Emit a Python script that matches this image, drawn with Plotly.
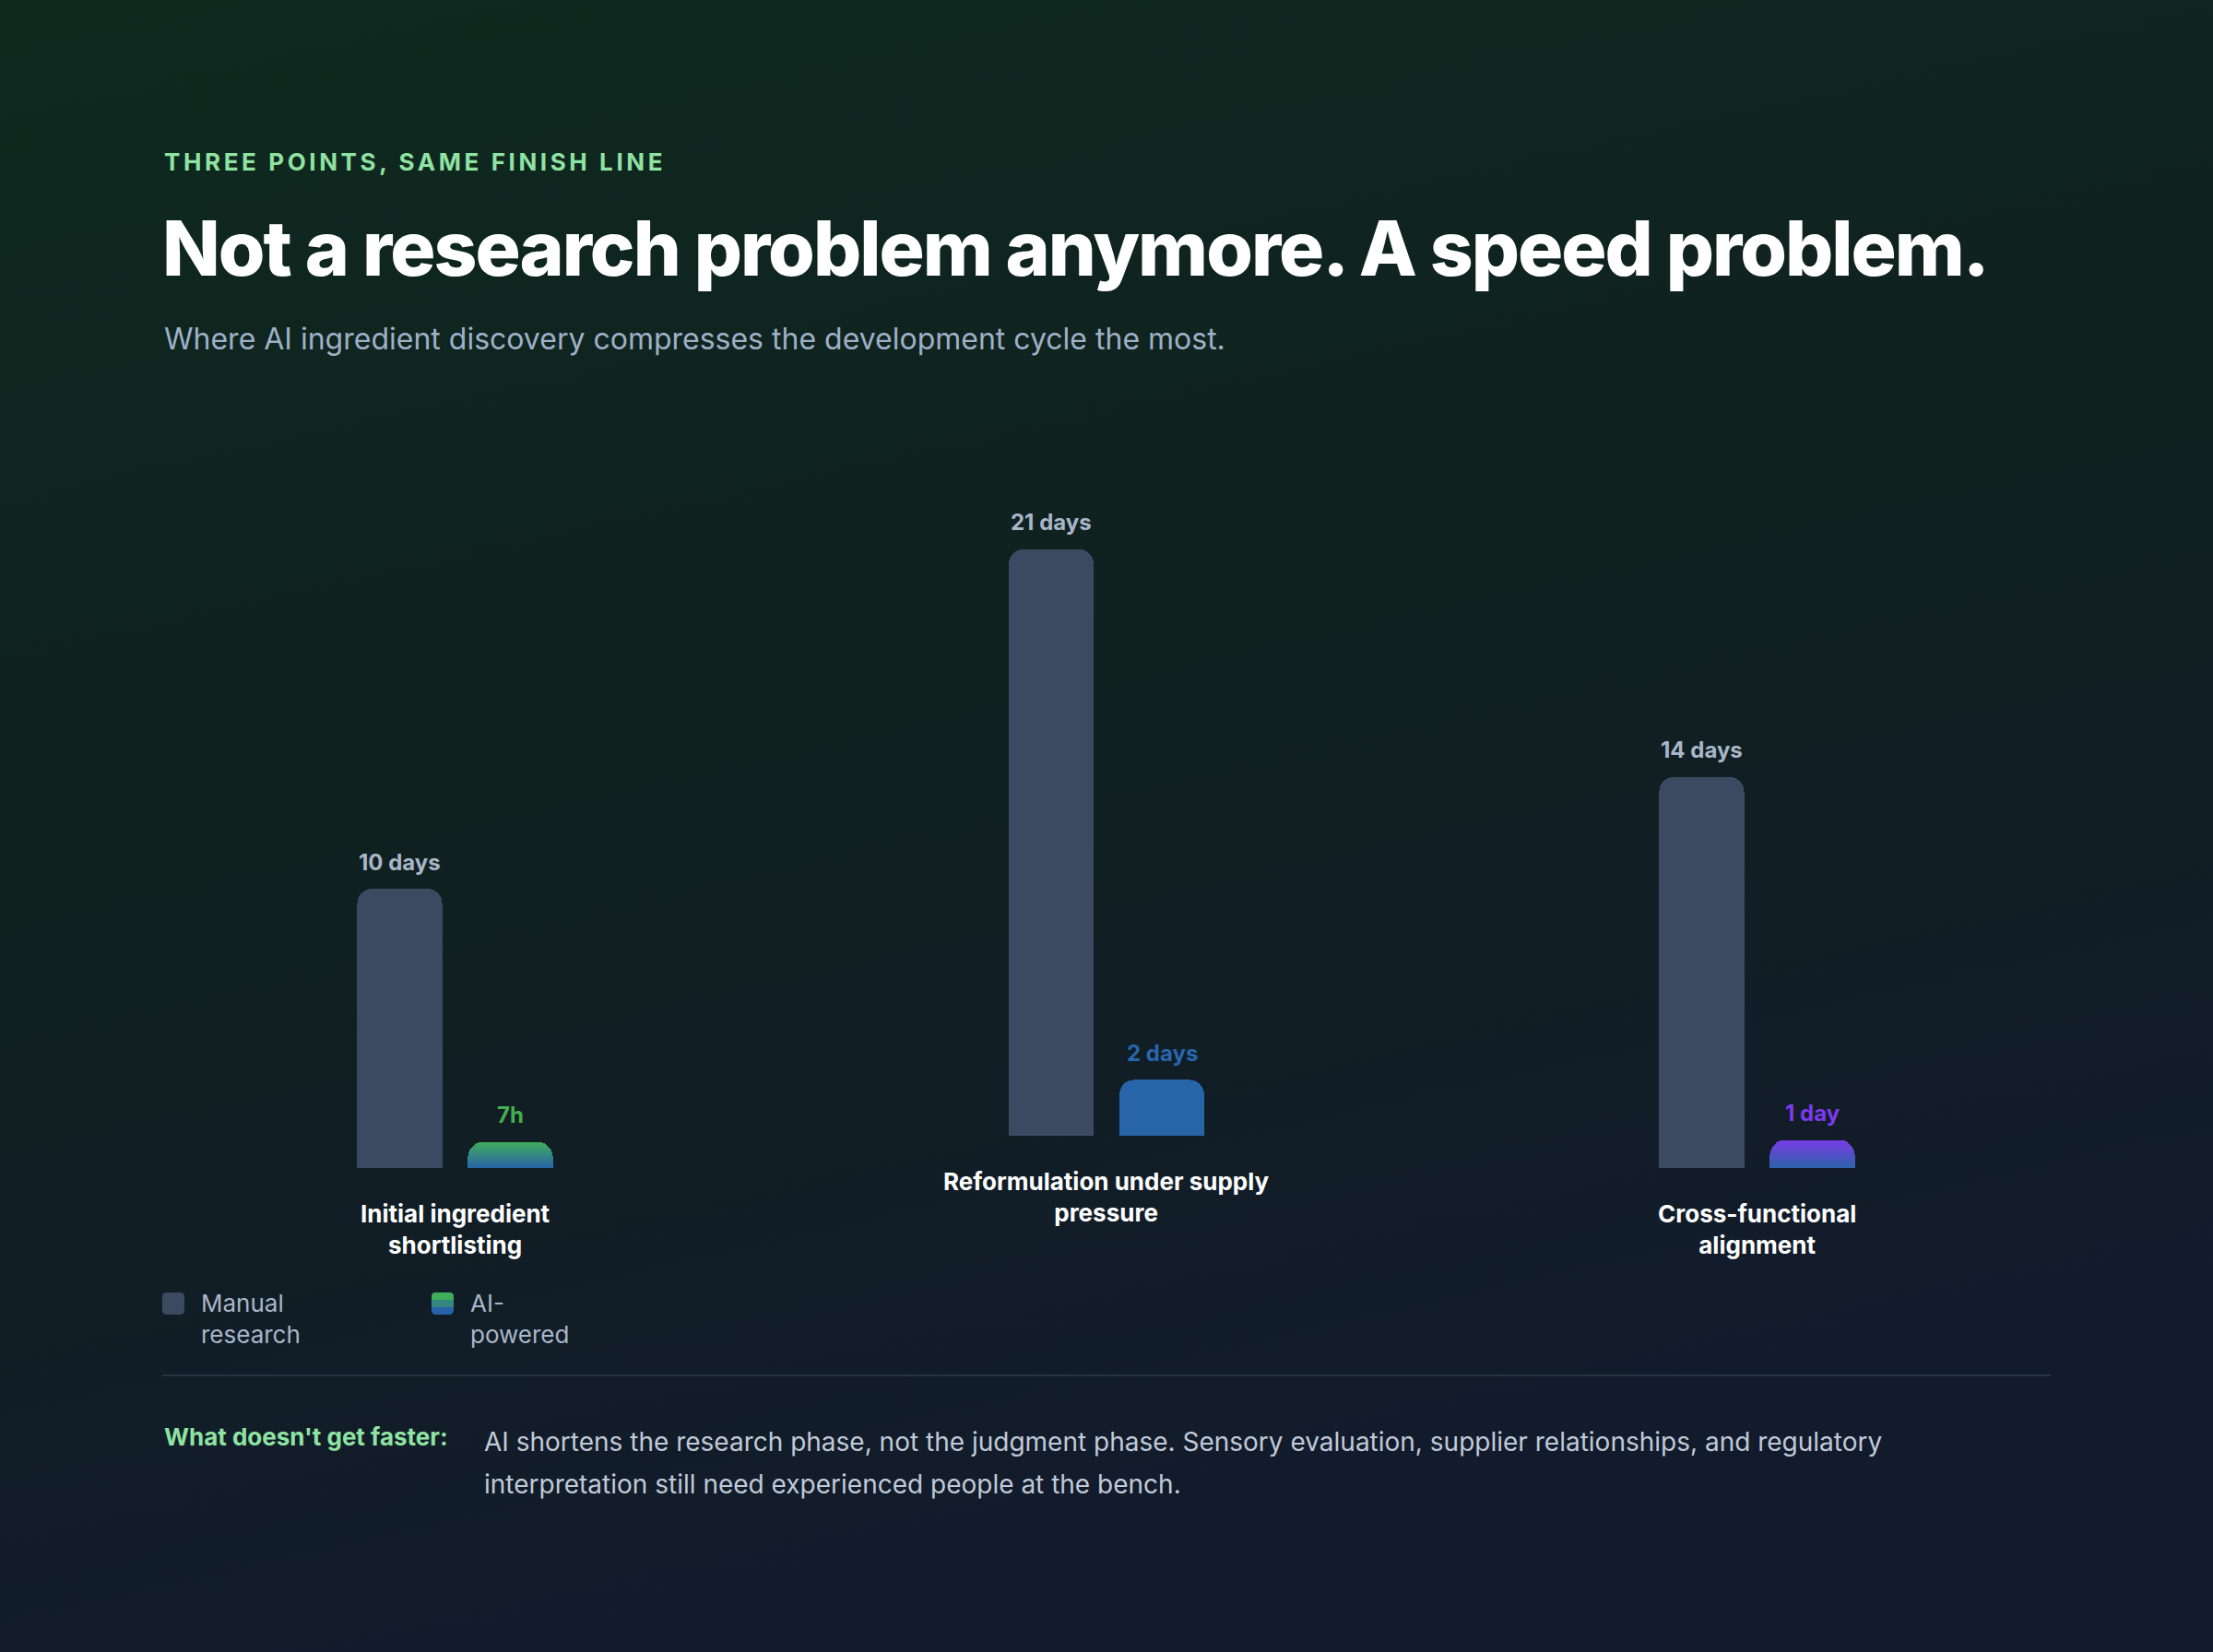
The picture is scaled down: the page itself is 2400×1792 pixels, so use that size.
import base64
import numpy as np
import plotly.graph_objects as go

# chart values
categories = ["Initial ingredient<br>shortlisting",
              "Reformulation under supply<br>pressure",
              "Cross-functional<br>alignment"]
manual_days = [10, 21, 14]
ai_days = [7 / 24, 2, 1]
manual_labels = ["10 days", "21 days", "14 days"]
ai_labels = ["7h", "2 days", "1 day"]
series_names = ["Manual<br>research", "AI-<br>powered"]

# styling
W, H = 2400, 1792
FONT = "Inter, Roboto, sans-serif"
MANUAL_COLOR = "#3b4a60"
MANUAL_LABEL = "#a9b6c9"
AI_TOP = ["#40ad5a", "#2764a8", "#7a3be6"]
AI_BOTTOM = ["#2863a9", "#2764a8", "#2c63aa"]
AI_LABEL = ["#46b04f", "#2866ad", "#7c3aed"]
GREEN = "#8fe3a2"
MIN_BAR_DAYS = 0.93      # smallest bar still drawn ~28px tall
N_SLICES = 8             # slices used to fake the vertical gradient

group_centers = [493.5, 1200, 1905.5]
baselines = [1267, 1232, 1267]
day_px = 30.3
y_max = 24


def fx(x):
    return x / W


def fy(y):
    return 1 - y / H


def mix(c1, c2, t):
    a = [int(c1[i:i + 2], 16) for i in (1, 3, 5)]
    b = [int(c2[i:i + 2], 16) for i in (1, 3, 5)]
    return "#" + "".join(f"{round(a[k] + (b[k] - a[k]) * t):02x}" for k in range(3))


def round_rect(x0, y0, x1, y1, r, top_only=False):
    # pixel coords -> paper path
    X = lambda v: f"{fx(v):.5f}"
    Y = lambda v: f"{fy(v):.5f}"
    rb = 0 if top_only else r
    return (f"M{X(x0 + r)},{Y(y0)} L{X(x1 - r)},{Y(y0)} Q{X(x1)},{Y(y0)} {X(x1)},{Y(y0 + r)} "
            f"L{X(x1)},{Y(y1 - rb)} Q{X(x1)},{Y(y1)} {X(x1 - rb)},{Y(y1)} "
            f"L{X(x0 + rb)},{Y(y1)} Q{X(x0)},{Y(y1)} {X(x0)},{Y(y1 - rb)} "
            f"L{X(x0)},{Y(y0 + r)} Q{X(x0)},{Y(y0)} {X(x0 + r)},{Y(y0)} Z")


fig = go.Figure()
annotations = []
layout_axes = {}

for i in range(3):
    suf = "" if i == 0 else str(i + 1)
    xa, ya = "x" + suf, "y" + suf
    # manual bar
    fig.add_bar(x=[0], y=[manual_days[i]], width=0.767, xaxis=xa, yaxis=ya,
                marker=dict(color=MANUAL_COLOR, line=dict(width=0)),
                showlegend=False, hoverinfo="skip")
    # ai bar drawn as stacked slices for the gradient
    h = max(ai_days[i], MIN_BAR_DAYS)
    for s in range(N_SLICES):
        t = (s + 0.5) / N_SLICES
        fig.add_bar(x=[1], y=[h / N_SLICES], width=0.767, xaxis=xa, yaxis=ya,
                    marker=dict(color=mix(AI_BOTTOM[i], AI_TOP[i], t), line=dict(width=0)),
                    showlegend=False, hoverinfo="skip")

    c = group_centers[i]
    b = baselines[i]
    layout_axes["xaxis" + suf] = dict(domain=[fx(c - 120), fx(c + 120)], range=[-0.5, 1.5],
                                      visible=False, fixedrange=True, anchor=ya)
    layout_axes["yaxis" + suf] = dict(domain=[fy(b), fy(b - y_max * day_px)], range=[0, y_max],
                                      visible=False, fixedrange=True, anchor=xa)

    annotations.append(dict(xref=xa, yref=ya, x=0, y=manual_days[i], yshift=29,
                            text=f"<b>{manual_labels[i]}</b>", showarrow=False, yanchor="middle",
                            font=dict(family=FONT, size=24, color=MANUAL_LABEL)))
    annotations.append(dict(xref=xa, yref=ya, x=1, y=h, yshift=29,
                            text=f"<b>{ai_labels[i]}</b>", showarrow=False, yanchor="middle",
                            font=dict(family=FONT, size=24, color=AI_LABEL[i])))
    annotations.append(dict(xref=f"{xa} domain", yref=f"{ya} domain", x=0.5, y=0, yshift=-66,
                            text=f"<b>{categories[i]}</b>", showarrow=False, yanchor="middle",
                            font=dict(family=FONT, size=26, color="#ffffff")))

# header text
annotations += [
    dict(xref="paper", yref="paper", x=fx(176), y=fy(176), xanchor="left", yanchor="middle",
         text='<span style="letter-spacing:3.6px"><b>THREE POINTS, SAME FINISH LINE</b></span>',
         showarrow=False, font=dict(family=FONT, size=26, color=GREEN)),
    dict(xref="paper", yref="paper", x=fx(174), y=fy(270), xanchor="left", yanchor="middle",
         text='<span style="letter-spacing:-2px">Not a research problem anymore. A speed problem.</span>',
         showarrow=False, font=dict(family=FONT, size=82, color="#ffffff", weight=800)),
    dict(xref="paper", yref="paper", x=fx(176), y=fy(367), xanchor="left", yanchor="middle",
         text="Where AI ingredient discovery compresses the development cycle the most.",
         showarrow=False, font=dict(family=FONT, size=32, color="#9fb0c8")),
]

# legend
legend_x = [176, 468]
for k in range(2):
    annotations.append(dict(xref="paper", yref="paper", x=fx(legend_x[k] + 40), y=fy(1430),
                            xanchor="left", yanchor="middle", align="left",
                            text=series_names[k], showarrow=False,
                            font=dict(family=FONT, size=26, color="#a9b6c9")))

shapes = [
    dict(type="path", xref="paper", yref="paper", layer="above", line=dict(width=0),
         fillcolor=MANUAL_COLOR, path=round_rect(176, 1402, 200, 1426, 5)),
    dict(type="path", xref="paper", yref="paper", layer="above", line=dict(width=0),
         fillcolor=AI_BOTTOM[0], path=round_rect(468, 1402, 492, 1426, 5)),
    dict(type="path", xref="paper", yref="paper", layer="above", line=dict(width=0),
         fillcolor=mix(AI_BOTTOM[0], AI_TOP[0], 0.5), path=round_rect(468, 1402, 492, 1418, 5, True)),
    dict(type="path", xref="paper", yref="paper", layer="above", line=dict(width=0),
         fillcolor=AI_TOP[0], path=round_rect(468, 1402, 492, 1410, 5, True)),
    # divider
    dict(type="line", xref="paper", yref="paper", x0=fx(176), x1=fx(2224), y0=fy(1492), y1=fy(1492),
         line=dict(color="#26353f", width=2)),
]

# footer note
annotations += [
    dict(xref="paper", yref="paper", x=fx(176), y=fy(1558), xanchor="left", yanchor="middle",
         text="<b>What doesn't get faster:</b>", showarrow=False,
         font=dict(family=FONT, size=26, color=GREEN)),
    dict(xref="paper", yref="paper", x=fx(523), y=fy(1564), xanchor="left", yanchor="middle",
         text="AI shortens the research phase, not the judgment phase. Sensory evaluation, "
              "supplier relationships, and regulatory",
         showarrow=False, font=dict(family=FONT, size=28, color="#c0cad8")),
    dict(xref="paper", yref="paper", x=fx(523), y=fy(1610), xanchor="left", yanchor="middle",
         text="interpretation still need experienced people at the bench.",
         showarrow=False, font=dict(family=FONT, size=28, color="#c0cad8")),
]

# background gradient as an svg image
svg = (f'<svg xmlns="http://www.w3.org/2000/svg" width="{W}" height="{H}" '
       f'preserveAspectRatio="none"><defs><linearGradient id="g" x1="0" y1="0" x2="0.3" y2="1">'
       '<stop offset="0" stop-color="#0e2a1f"/><stop offset="0.5" stop-color="#10201f"/>'
       '<stop offset="1" stop-color="#121b2c"/></linearGradient></defs>'
       f'<rect width="{W}" height="{H}" fill="url(#g)"/></svg>')
bg = "data:image/svg+xml;base64," + base64.b64encode(svg.encode()).decode()

fig.update_layout(
    width=W, height=H,
    margin=dict(l=0, r=0, t=0, b=0),
    paper_bgcolor="#101f22",
    plot_bgcolor="rgba(0,0,0,0)",
    barmode="stack",
    barcornerradius=16,
    showlegend=False,
    annotations=annotations,
    shapes=shapes,
    images=[dict(source=bg, xref="paper", yref="paper", x=0, y=1, sizex=1, sizey=1,
                 xanchor="left", yanchor="top", sizing="stretch", layer="below")],
    **layout_axes,
)

# drop the page margin so the figure fills the window
fig.write_html("out.html", config={"displayModeBar": False},
               post_script="document.body.style.margin='0';document.body.style.overflow='hidden';")
